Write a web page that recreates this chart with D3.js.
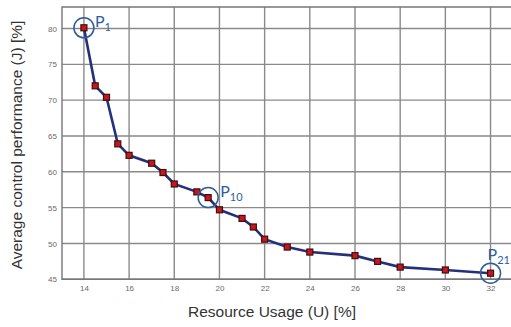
<!DOCTYPE html>
<html>
<head>
<meta charset="utf-8">
<script src="https://cdn.jsdelivr.net/npm/d3@7"></script>
<style>
  body { margin: 0; background: #fff; }
  svg { display: block; }
</style>
</head>
<body>
<div id="chart"></div>
<script>
// Data
const usage = [14, 14.5, 15, 15.5, 16, 17, 17.5, 18, 19, 19.5, 20, 21, 21.5, 22, 23, 24, 26, 27, 28, 30, 32];
const perf = [80.1, 72.0, 70.4, 63.9, 62.3, 61.2, 59.9, 58.3, 57.2, 56.4, 54.7, 53.5, 52.3, 50.6, 49.5, 48.8, 48.3, 47.5, 46.7, 46.3, 45.85];
const xTicks = [14, 16, 18, 20, 22, 24, 26, 28, 30, 32];
const yTicks = [45, 50, 55, 60, 65, 70, 75, 80];
// labelled points: index into the series and the subscript
const callouts = [
  { i: 0, sub: '1' },
  { i: 9, sub: '10' },
  { i: 20, sub: '21' }
];

const width = 511;
const height = 327;

const svg = d3.select('#chart')
  .append('svg')
  .attr('width', width)
  .attr('height', height);

const x = d3.scaleLinear().domain([13.03, 32.95]).range([62, 512]);
const y = d3.scaleLinear().domain([45, 83]).range([279.3, 7]);

const gridColor = '#8a8a8a';

// grid
svg.append('g')
  .selectAll('line')
  .data(xTicks)
  .enter()
  .append('line')
  .attr('x1', d => x(d)).attr('x2', d => x(d))
  .attr('y1', y(83)).attr('y2', y(45))
  .attr('stroke', gridColor)
  .attr('stroke-width', 1.4);

svg.append('g')
  .selectAll('line')
  .data(yTicks)
  .enter()
  .append('line')
  .attr('x1', x(13.03)).attr('x2', width)
  .attr('y1', d => y(d)).attr('y2', d => y(d))
  .attr('stroke', gridColor)
  .attr('stroke-width', 1.4);

// frame (top, left, bottom)
svg.append('path')
  .attr('d', `M${width},${y(83)}H${x(13.03)}V${y(45)}H${width}`)
  .attr('fill', 'none')
  .attr('stroke', '#777')
  .attr('stroke-width', 1.4);

// tick labels
const xAxis = d3.axisBottom(x).tickValues(xTicks).tickSize(0).tickPadding(6);
svg.append('g')
  .attr('transform', `translate(0,${y(45)})`)
  .call(xAxis)
  .call(g => g.select('.domain').remove())
  .selectAll('text')
  .attr('fill', '#6a6a6a')
  .style('font', '8px "Liberation Sans", Arial, sans-serif');

const yAxis = d3.axisLeft(y).tickValues(yTicks).tickSize(0).tickPadding(5);
svg.append('g')
  .attr('transform', `translate(${x(13.03)},0)`)
  .call(yAxis)
  .call(g => g.select('.domain').remove())
  .selectAll('text')
  .attr('fill', '#6a6a6a')
  .style('font', '8px "Liberation Sans", Arial, sans-serif');

// axis titles
svg.append('text')
  .attr('x', 272)
  .attr('y', 317)
  .attr('text-anchor', 'middle')
  .attr('fill', '#333')
  .style('font', '15.5px "Liberation Sans", Arial, sans-serif')
  .text('Resource Usage (U) [%]');

svg.append('text')
  .attr('transform', 'translate(22,145) rotate(-90)')
  .attr('text-anchor', 'middle')
  .attr('fill', '#333')
  .style('font', '15.5px "Liberation Sans", Arial, sans-serif')
  .text('Average control performance (J) [%]');

// curve
const pts = usage.map((u, i) => [u, perf[i]]);
const line = d3.line().x(d => x(d[0])).y(d => y(d[1]));

svg.append('path')
  .datum(pts)
  .attr('d', line)
  .attr('fill', 'none')
  .attr('stroke', '#25307a')
  .attr('stroke-width', 2.6);

svg.append('g')
  .selectAll('rect')
  .data(pts)
  .enter()
  .append('rect')
  .attr('x', d => x(d[0]) - 3)
  .attr('y', d => y(d[1]) - 3)
  .attr('width', 6)
  .attr('height', 6)
  .attr('fill', '#c8161d')
  .attr('stroke', '#3b1010')
  .attr('stroke-width', 1.2);

// callouts
const blue = '#2c5d9f';
const labelOffset = { '1': [11, -1], '10': [12, -1], '21': [-3, -13] };

const co = svg.append('g')
  .selectAll('g')
  .data(callouts)
  .enter()
  .append('g')
  .attr('transform', d => `translate(${x(usage[d.i])},${y(perf[d.i])})`);

co.append('circle')
  .attr('r', 10)
  .attr('fill', 'none')
  .attr('stroke', blue)
  .attr('stroke-width', 1.5);

const lbl = co.append('text')
  .attr('x', d => labelOffset[d.sub][0])
  .attr('y', d => labelOffset[d.sub][1])
  .attr('fill', blue)
  .style('font-family', 'Lato, "Open Sans", sans-serif');

lbl.append('tspan')
  .style('font-size', '16px')
  .text('P');

lbl.append('tspan')
  .attr('dy', 4)
  .style('font-size', '11px')
  .text(d => d.sub);
</script>
</body>
</html>
